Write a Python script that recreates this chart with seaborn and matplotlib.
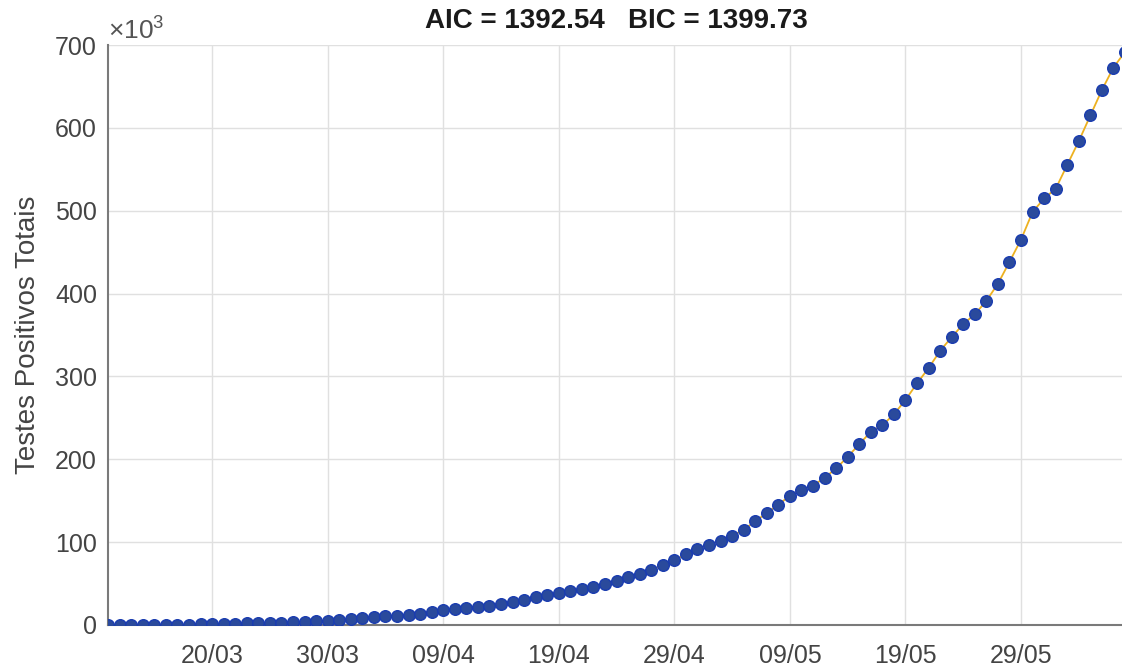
import numpy as np
import pandas as pd
import matplotlib
matplotlib.use("Agg")
import matplotlib.pyplot as plt
import matplotlib.dates as mdates
import seaborn as sns

# cumulative positive tests, one value per day starting 11/03
START_DATE = "2020-03-11"
positives = [
    52, 77, 98, 121, 200, 234, 291, 428, 621, 904,
    1128, 1546, 1891, 2201, 2433, 2915, 3417, 3904, 4256, 4579,
    5717, 6836, 8044, 9056, 10360, 11130, 12056, 13717, 15927, 17857,
    19638, 20727, 22169, 23430, 25262, 28320, 30425, 33682, 36599, 38654,
    40581, 43079, 45757, 49492, 52995, 58509, 61888, 66501, 71886, 78162,
    85380, 91589, 96559, 101147, 107780, 114715, 125218, 135106, 145328, 155939,
    162699, 168331, 177589, 188974, 202918, 218223, 233142, 241080, 254220, 271628,
    291579, 310087, 330890, 347398, 363211, 374898, 391222, 411821, 438238, 465166,
    498440, 514849, 526447, 555383, 584016, 614941, 645771, 672846, 691758,
]
tick_dates = ["2020-03-20", "2020-03-30", "2020-04-09", "2020-04-19",
              "2020-04-29", "2020-05-09", "2020-05-19", "2020-05-29"]
y_ticks = [0, 100, 200, 300, 400, 500, 600, 700]

title_text = "AIC = 1392.54   BIC = 1399.73"
y_label = "Testes Positivos Totais"

df = pd.DataFrame({
    "date": pd.date_range(START_DATE, periods=len(positives), freq="D"),
    "cases": np.array(positives) / 1000.0,
})

sns.set_style("white")
plt.rcParams["font.family"] = ["Liberation Sans", "DejaVu Sans"]
plt.rcParams["mathtext.fontset"] = "custom"
plt.rcParams["mathtext.rm"] = "Liberation Sans"
plt.rcParams["mathtext.it"] = "Liberation Sans:italic"

fig = plt.figure(figsize=(11.22, 6.69), dpi=100)
ax = fig.add_axes([0.0963, 0.0658, 0.9064, 0.8669])

# fitted curve (orange) under the observed points
sns.lineplot(data=df, x="date", y="cases", ax=ax, color="#EDB120", linewidth=1.3, zorder=2)
sns.scatterplot(data=df, x="date", y="cases", ax=ax, s=70, color="#2a4a9c",
                edgecolor="#1a3cb0", linewidth=1.0, zorder=3)

ax.set_xlim(df["date"].iloc[0], df["date"].iloc[-1])
ax.set_ylim(0, 700)
ax.set_yticks(y_ticks)
ax.set_xticks(pd.to_datetime(tick_dates))
ax.xaxis.set_major_formatter(mdates.DateFormatter("%d/%m"))

ax.grid(True, color="#e0e0e0", linewidth=1.0)
ax.set_axisbelow(True)
for side in ["top", "right"]:
    ax.spines[side].set_visible(False)
for side in ["left", "bottom"]:
    ax.spines[side].set_color("#7a7a7a")
    ax.spines[side].set_linewidth(1.5)

ax.tick_params(axis="y", direction="in", length=7, width=1.2, color="#404040",
               labelsize=18, labelcolor="#444444", pad=8)
ax.tick_params(axis="x", direction="in", length=7, width=1.2, color="#404040",
               labelsize=18, labelcolor="#444444", pad=14)
ax.set_xlabel("")
ax.set_ylabel(y_label, fontsize=20, color="#444444", labelpad=10)
ax.set_title(title_text, fontsize=20, fontweight="bold", color="#1a1a1a", pad=12)

ax.text(0.0, 1.0, r"$\times\mathregular{10^3}$", transform=ax.transAxes,
        fontsize=19, color="#555555", ha="left", va="bottom")

fig.savefig("out.png", dpi=100)
